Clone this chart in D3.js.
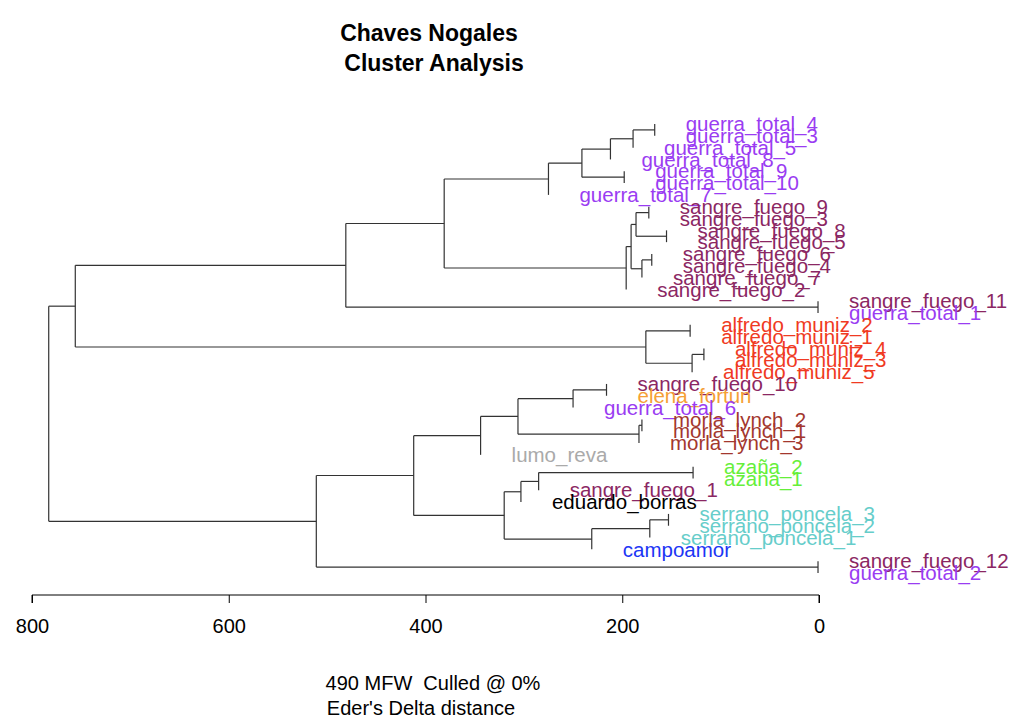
<!DOCTYPE html>
<html><head><meta charset="utf-8">
<script src="https://cdn.jsdelivr.net/npm/d3@7"></script>
<style>body{margin:0;background:#fff}text{font-family:"Liberation Sans",Arial,sans-serif}</style>
</head><body><svg id="c" width="1024" height="719"></svg>
<script>
const tips = ["guerra_total_4","guerra_total_3","guerra_total_5","guerra_total_8","guerra_total_9","guerra_total_10","guerra_total_7",
"sangre_fuego_9","sangre_fuego_3","sangre_fuego_8","sangre_fuego_5","sangre_fuego_6","sangre_fuego_4","sangre_fuego_7","sangre_fuego_2",
"sangre_fuego_11","guerra_total_1","alfredo_muniz_2","alfredo_muniz_1","alfredo_muniz_4","alfredo_muniz_3","alfredo_muniz_5",
"sangre_fuego_10","elena_fortun","guerra_total_6","morla_lynch_2","morla_lynch_1","morla_lynch_3","lumo_reva",
"azaña_2","azaña_1","sangre_fuego_1","eduardo_borras","serrano_poncela_3","serrano_poncela_2","serrano_poncela_1","campoamor",
"sangre_fuego_12","guerra_total_2"];
// merges: [left, right, height]; numbers refer to earlier merges (1-based), strings to tips
const merges = [
["guerra_total_4","guerra_total_3",167],[1,"guerra_total_5",189],[2,"guerra_total_8",212],
["guerra_total_9","guerra_total_10",198],[3,4,241],[5,"guerra_total_7",275],
["sangre_fuego_9","sangre_fuego_3",173],["sangre_fuego_8","sangre_fuego_5",155],[7,8,186],
["sangre_fuego_6","sangre_fuego_4",170],[10,"sangre_fuego_7",180],[9,11,191],[12,"sangre_fuego_2",196],
[6,13,381],["sangre_fuego_11","guerra_total_1",1],[14,15,481],
["alfredo_muniz_2","alfredo_muniz_1",131],["alfredo_muniz_4","alfredo_muniz_3",117],[18,"alfredo_muniz_5",129],[17,19,176],
[16,20,756],
["sangre_fuego_10","elena_fortun",216],[22,"guerra_total_6",250],
["morla_lynch_2","morla_lynch_1",180],[24,"morla_lynch_3",183],[23,25,306],[26,"lumo_reva",344],
["azaña_2","azaña_1",128],[28,"sangre_fuego_1",285],[29,"eduardo_borras",303],
["serrano_poncela_3","serrano_poncela_2",153],[31,"serrano_poncela_1",172],[32,"campoamor",231],[30,33,320],
[27,34,412],["sangre_fuego_12","guerra_total_2",1],[35,36,511],[21,37,783]];
const groups = ["guerra_total","sangre_fuego","alfredo_muniz","elena_fortun","morla_lynch","lumo_reva","azaña","eduardo_borras","serrano_poncela","campoamor"];
const groupColors = ["#9a3cf2","#8b2763","#f03a22","#f5a035","#a3372e","#aaaaaa","#66ef3a","#000000","#66cdca","#1c36f5"];
const axisTicks = [800,600,400,200,0];

const svg = d3.select("#c");
const x = d3.scaleLinear().domain([800,0]).range([32,819]);
const y = d3.scalePoint().domain(tips).range([124,573]);
const color = d3.scaleOrdinal().domain(groups).range(groupColors);
const grp = n => groups.find(g => n.startsWith(g));

const nodes = [];
const pos = ref => typeof ref === "string" ? {y:y(ref)} : nodes[ref-1];
merges.forEach(([a,b,h]) => {
  const A = pos(a), B = pos(b);
  nodes.push({a, b, h, y:(A.y+B.y)/2});
});
const g = svg.append("g").attr("stroke","#333").attr("stroke-width",1.2).attr("fill","none");
const parentX = {};
nodes.forEach(n => {
  const A = pos(n.a), B = pos(n.b), nx = x(n.h);
  g.append("line").attr("x1",nx).attr("x2",nx).attr("y1",A.y).attr("y2",B.y);
  [n.a,n.b].forEach(c => {
    if (typeof c === "string") parentX[c] = nx;
    else g.append("line").attr("x1",nx).attr("x2",x(nodes[c-1].h)).attr("y1",nodes[c-1].y).attr("y2",nodes[c-1].y);
  });
});
svg.append("g").selectAll("text").data(tips).join("text")
  .attr("x", d => parentX[d] + 31).attr("y", d => y(d)).attr("dy","0.35em")
  .attr("font-size",20.5).attr("fill", d => color(grp(d))).text(d => d);

const ax = svg.append("g").attr("transform","translate(0,595)")
  .call(d3.axisBottom(x).tickValues(axisTicks).tickSize(8).tickPadding(16).tickFormat(d3.format("d")));
ax.select(".domain").attr("stroke","#000").attr("d",`M${x(800)},8V0H${x(0)}V8`);
ax.selectAll(".tick line").attr("stroke","#000");
ax.selectAll("text").attr("font-size",20).attr("font-family","Liberation Sans, Arial, sans-serif").attr("fill","#000");

svg.append("text").attr("x",429).attr("y",41).attr("text-anchor","middle").attr("font-size",23).attr("font-weight","bold").text("Chaves Nogales");
svg.append("text").attr("x",434).attr("y",71).attr("text-anchor","middle").attr("font-size",23).attr("font-weight","bold").text("Cluster Analysis");
svg.append("text").attr("x",433).attr("y",690).attr("text-anchor","middle").attr("font-size",20).attr("xml:space","preserve").text("490 MFW  Culled @ 0%");
svg.append("text").attr("x",421).attr("y",715).attr("text-anchor","middle").attr("font-size",20).text("Eder's Delta distance");
</script></body></html>
